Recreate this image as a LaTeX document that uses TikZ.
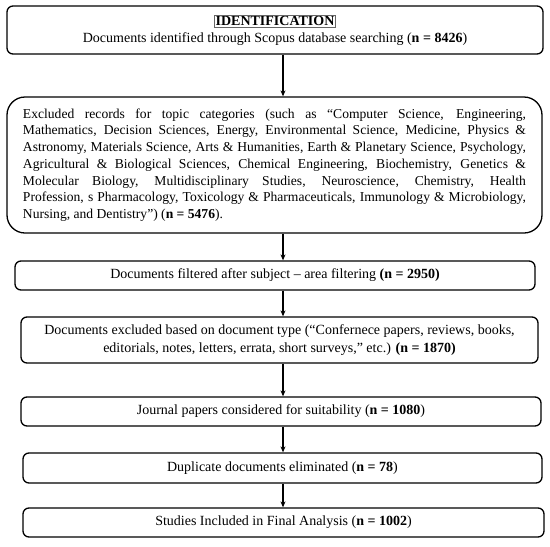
\documentclass[tikz,border=0pt]{standalone}
\usepackage{fontspec}
\setmainfont{Liberation Serif}
\usetikzlibrary{arrows.meta}
\newcommand{\jline}[1]{\hbox to 503pt{#1}}
\begin{document}
\begin{tikzpicture}[x=1pt,y=-1pt,
  box/.style={draw=black, line width=1.3pt, rounded corners=6pt, align=center,
    inner sep=0pt, font=\fontsize{14}{17.5}\selectfont},
  arr/.style={line width=1.3pt, -{Stealth[length=6pt,width=5pt]}}]
\useasboundingbox (0,0) rectangle (550,547);
\node[box, minimum width=536pt, minimum height=48pt] (b1) at (275,30)
  {{\setlength\fboxsep{1pt}\setlength\fboxrule{0.7pt}\fcolorbox{black!60}{white}{\textbf{IDENTIFICATION}}}\\[-1pt]
   Documents identified through Scopus database searching (\textbf{n = 8426})};
\node[box, rounded corners=18pt, minimum width=535pt, minimum height=136pt] (b2) at (274.5,165)
  {\vbox{\fontsize{13.6}{16.7}\selectfont\baselineskip=16.7pt
   \jline{Excluded records for topic categories (such as “Computer Science, Engineering,}
   \jline{Mathematics, Decision Sciences, Energy, Environmental Science, Medicine, Physics \&}
   \jline{Astronomy, Materials Science, Arts \& Humanities, Earth \& Planetary Science, Psychology,}
   \jline{Agricultural \& Biological Sciences, Chemical Engineering, Biochemistry, Genetics \&}
   \jline{Molecular Biology, Multidisciplinary Studies, Neuroscience, Chemistry, Health}
   \jline{Profession, s Pharmacology, Toxicology \& Pharmaceuticals, Immunology \& Microbiology,}
   \jline{Nursing, and Dentistry”) (\textbf{n = 5476}).\hfil}}};
\node[box, minimum width=520pt, minimum height=29pt] (b3) at (275,275.5)
  {Documents filtered after subject – area filtering \textbf{(n = 2950)}};
\node[box, minimum width=517pt, minimum height=46pt] (b4) at (279.5,340)
  {Documents excluded based on document type (“Confernece papers, reviews, books,\\
   editorials, notes, letters, errata, short surveys,” etc.) \textbf{(n = 1870)}};
\node[box, minimum width=520pt, minimum height=29pt] (b5) at (281,411.5)
  {Journal papers considered for suitability (\textbf{n = 1080})};
\node[box, minimum width=519pt, minimum height=30pt] (b6) at (282.5,468)
  {Duplicate documents eliminated (\textbf{n = 78})};
\node[box, minimum width=521pt, minimum height=29pt] (b7) at (283.5,522.5)
  {Studies Included in Final Analysis (\textbf{n = 1002})};
\coordinate (ax) at (283,0);
\draw[arr] (b1.south -| ax) -- (b2.north -| ax);
\draw[arr] (b2.south -| ax) -- (b3.north -| ax);
\draw[arr] (b3.south -| ax) -- (b4.north -| ax);
\draw[arr] (b4.south -| ax) -- (b5.north -| ax);
\draw[arr] (b5.south -| ax) -- (b6.north -| ax);
\draw[arr] (b6.south -| ax) -- (b7.north -| ax);
\end{tikzpicture}
\end{document}
